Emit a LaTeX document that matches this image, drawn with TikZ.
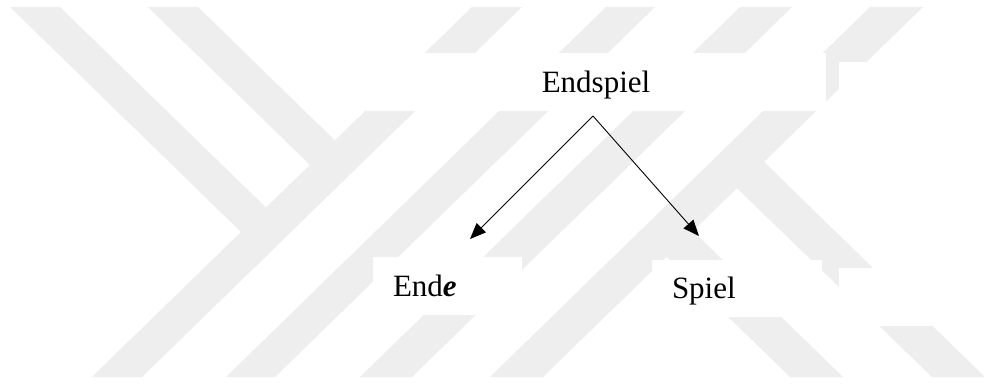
\documentclass[tikz,border=0pt]{standalone}
\usepackage{fontspec}
\setmainfont{Liberation Serif}
\usetikzlibrary{arrows.meta}
\definecolor{wm}{RGB}{238,238,238}
\begin{document}
\begin{tikzpicture}[x=1pt,y=-1pt,
  wmark/.style={fill=wm,draw=none},
  cover/.style={fill=white,draw=none},
  word/.style={fill=white,draw=none,inner xsep=20pt,inner ysep=0pt,
    text height=20.5pt,text depth=0pt,font=\fontsize{31}{37}\selectfont},
  arr/.style={-{Triangle[length=16pt,width=13pt]},line width=0.9pt}]
\useasboundingbox (0,0) rectangle (984,383);
\fill[white] (0,0) rectangle (984,383);
% watermark stripes
\fill[wmark] (472,7) -- (522,7) -- (142,377) -- (92,377) -- cycle;
\fill[wmark] (606,7) -- (655,7) -- (275,377) -- (226,377) -- cycle;
\fill[wmark] (740,7) -- (792,7) -- (412,377) -- (360,377) -- cycle;
\fill[wmark] (870,7) -- (923,7) -- (543,377) -- (490,377) -- cycle;
\fill[wmark] (10,7) -- (60,7) -- (291,232) -- (241,232) -- cycle;
\fill[wmark] (148,7) -- (198,7) -- (360,165) -- (310,165) -- cycle;
\fill[wmark] (710,162) -- (764,162) -- (985,377) -- (932,377) -- cycle;
\fill[wmark] (640,231) -- (693,231) -- (843,377) -- (790,377) -- cycle;
% white cover boxes
\fill[cover] (839,62) rectangle (984,111);
\fill[cover] (839,268) rectangle (984,326);
% nodes
\node[word,text width=420pt,align=center,minimum height=58pt] (top) at (596,82) {Endspiel};
\node[word,text width=109pt,align=left,minimum height=58pt] (ende) at (447.5,286) {End\textbf{\textit{e}}};
\node[word,text width=130pt,align=left,minimum height=57pt] (spiel) at (737,288.5) {Spiel};
% connectors
\coordinate (apex) at (593,116);
\coordinate (tipL) at (470,239);
\coordinate (tipR) at (699,236);
\draw[arr] (apex) -- (tipL);
\draw[arr] (apex) -- (tipR);
\end{tikzpicture}
\end{document}
